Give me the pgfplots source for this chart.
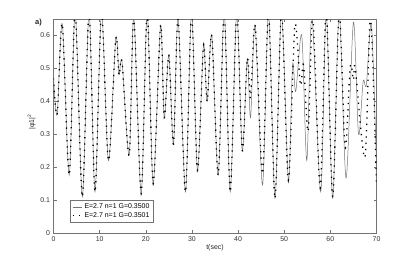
\documentclass[border=0pt]{standalone}
\usepackage{fontspec}
\setmainfont{Liberation Sans}
\usepackage{pgfplots}
\pgfplotsset{compat=1.18}
\begin{document}
\begin{tikzpicture}
\begin{axis}[
  scale only axis, width=323bp, height=214bp,
  xmin=0, xmax=70, ymin=0, ymax=0.65,
  xtick={0,10,20,30,40,50,60,70},
  ytick={0,0.1,0.2,0.3,0.4,0.5,0.6},
  tick align=inside, tick pos=both, major tick length=3bp,
  axis line style={black!55, line width=0.5bp},
  every tick/.style={black!55, line width=0.5bp},
  /pgf/number format/assume math mode=true,
  tick label style={font=\fontsize{7}{8}\selectfont, text=black!80},
  yticklabel style={/pgf/number format/fixed, /pgf/number format/precision=1},
  xlabel={t(sec)},
  xlabel style={at={(axis description cs:0.5,-0.07)}, anchor=center, font=\fontsize{7}{8}\selectfont, text=black!85},
  ylabel={|φ1|\textsuperscript{2}},
  ylabel style={at={(axis description cs:-0.068,0.52)}, anchor=center, font=\fontsize{7}{8}\selectfont, text=black!85},
  legend style={at={(0.051,0.051)}, anchor=south west, draw=black!55, line width=0.5bp,
    font=\fontsize{7}{8}\selectfont, inner xsep=2bp, inner ysep=1bp, row sep=-1.5bp, cells={anchor=west}},
  legend image code/.code={\draw[#1] (0bp,0bp) -- (9bp,0bp);},
]
\addplot[black!55, line width=0.5bp, smooth] coordinates {
(0,0.47) (0.8,0.36) (1.9,0.635) (3.4,0.176) (4.7,0.67) (6.25,0.11) (7.7,0.67) (9.0,0.125)
(10.4,0.67) (11.9,0.22) (13.5,0.59) (14.2,0.48) (14.85,0.52) (16.4,0.237) (17.4,0.655)
(19.0,0.12) (20.3,0.67) (21.6,0.15) (23.2,0.63) (24.0,0.35) (25.0,0.54) (26.0,0.27)
(27.0,0.65) (28.6,0.125) (29.9,0.67) (31.2,0.19) (32.5,0.57) (33.3,0.40) (34.3,0.60)
(35.7,0.176) (37.0,0.67) (38.3,0.125) (39.7,0.67) (40.9,0.25) (42.0,0.53)
(42.7,0.35) (43.7,0.63) (45.3,0.146) (46.6,0.67) (48.0,0.105) (49.4,0.67) (50.9,0.16)
(51.8,0.51) (52.5,0.43) (53.8,0.60) (54.9,0.22) (56.0,0.66) (57.9,0.125) (59.1,0.67)
(60.5,0.105) (61.9,0.67) (63.4,0.167) (65.0,0.64) (66.1,0.30) (67.1,0.46) (67.8,0.45)
(68.9,0.63) (70,0.2)
};
\addlegendentry{E=2.7 n=1 G=0.3500}
\addplot[black, line width=1.3bp, dash pattern=on 1.3bp off 5bp, smooth] coordinates {
(0,0.47) (0.8,0.36) (1.9,0.635) (3.4,0.176) (4.7,0.67) (6.25,0.11) (7.7,0.67) (9.0,0.125)
(10.4,0.67) (11.9,0.22) (13.5,0.59) (14.2,0.48) (14.85,0.52) (16.4,0.237) (17.4,0.655)
(19.0,0.12) (20.3,0.67) (21.6,0.15) (23.2,0.63) (24.0,0.35) (25.0,0.54) (26.0,0.27)
(27.0,0.65) (28.6,0.125) (29.9,0.67) (31.2,0.19) (32.5,0.57) (33.3,0.40) (34.3,0.60)
(35.7,0.176) (37.0,0.67) (38.3,0.125) (39.7,0.67) (40.9,0.25) (42.0,0.53)
(42.7,0.41) (43.7,0.63) (45.3,0.18) (46.6,0.67) (48.0,0.105) (49.4,0.67) (50.9,0.16)
(52.3,0.63) (53.5,0.45) (54.2,0.51) (55.2,0.31) (56.2,0.655) (57.8,0.137) (59.1,0.67)
(60.5,0.11) (61.9,0.67) (63.2,0.26) (64.3,0.505) (65.0,0.465) (65.4,0.50) (67.5,0.23)
(68.7,0.655) (70,0.146)
};
\addlegendentry{E=2.7 n=1 G=0.3501}
\coordinate (SW) at (rel axis cs:0,0);
\coordinate (NE) at (rel axis cs:1,1);
\coordinate (TL) at (rel axis cs:0,1);
\end{axis}
\node[font=\bfseries\fontsize{7.5}{8}\selectfont, text=black!85] at ([xshift=-15bp,yshift=-3.5bp]TL) {a)};
\pgfresetboundingbox
\path (SW) ++(-53.5bp,-29bp) (NE) ++(38.5bp,19bp);
\end{tikzpicture}
\end{document}
